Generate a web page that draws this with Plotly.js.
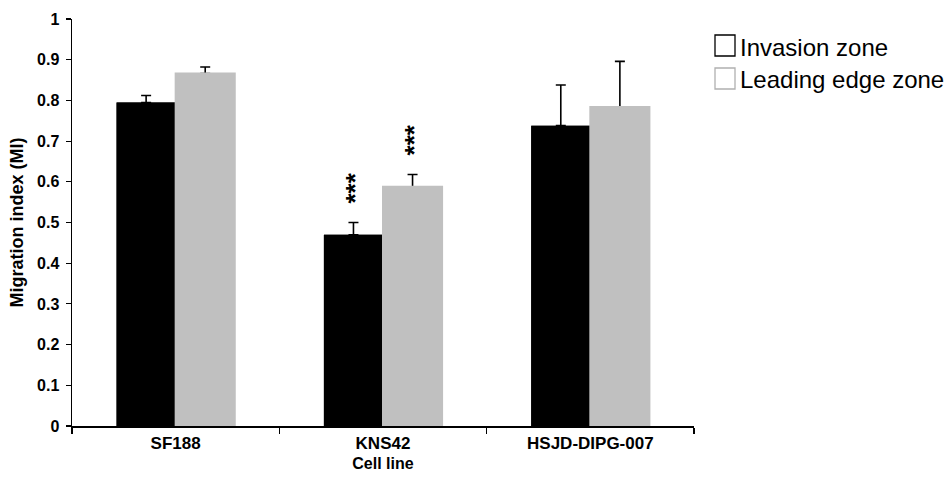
<!DOCTYPE html>
<html>
<head>
<meta charset="utf-8">
<script src="https://cdn.plot.ly/plotly-3.0.1.min.js"></script>
<style>html,body{margin:0;padding:0;background:#fff;}#chart{width:948px;height:479px;}</style>
</head>
<body>
<div id="chart"></div>
<script>
const categories = ["SF188", "KNS42", "HSJD-DIPG-007"];
const seriesNames = ["Invasion zone", "Leading edge zone"];
const invasion = [0.795, 0.470, 0.738];
const invasionErr = [0.017, 0.030, 0.100];
const leading = [0.866, 0.588, 0.784];
const leadingErr = [0.016, 0.030, 0.112];
const seriesColors = ["#000000", "#c0c0c0"];
const sigLabels = [["", "***", ""], ["", "***", ""]];

const FONT = "Liberation Sans, Arial, sans-serif";

function errOpts(arr) {
  return {type: "data", array: arr, symmetric: false, arrayminus: arr.map(() => 0),
          color: "#000", thickness: 1.6, width: 5};
}
const traces = [
  {type: "bar", name: seriesNames[0], x: categories, y: invasion,
   marker: {color: seriesColors[0]}, showlegend: false, error_y: errOpts(invasionErr)},
  {type: "bar", name: seriesNames[1], x: categories, y: leading,
   marker: {color: seriesColors[1]}, showlegend: false, error_y: errOpts(leadingErr)},
  // same bars redrawn on an overlaid axis so the error bars start at the bar top without a foot
  {type: "bar", name: seriesNames[0], x: categories, y: invasion, xaxis: "x2", yaxis: "y",
   marker: {color: seriesColors[0], line: {color: seriesColors[0], width: 0}}, showlegend: false},
  {type: "bar", name: seriesNames[1], x: categories, y: leading, xaxis: "x2", yaxis: "y",
   marker: {color: seriesColors[1], line: {color: seriesColors[1], width: 2}}, showlegend: false}
];

const annotations = [];
const sets = [[invasion, invasionErr, -29.5], [leading, leadingErr, 29.5]];
sets.forEach((s, si) => {
  categories.forEach((c, i) => {
    if (sigLabels[si][i]) {
      annotations.push({x: c, y: s[0][i] + s[1][i], xref: "x", yref: "y",
        text: "<b>" + sigLabels[si][i] + "</b>", showarrow: false, textangle: -90,
        xshift: s[2] + 1, yanchor: "bottom", yshift: 17,
        font: {family: FONT, size: 26, color: "#000"}});
    }
  });
});
// legend
const shapes = [];
seriesNames.forEach((n, i) => {
  shapes.push({type: "rect", xref: "paper", yref: "paper",
    x0: (715 - 72) / 622, x1: (735 - 72) / 622,
    y0: (426 - (56 + i * 33)) / 407, y1: (426 - (35 + i * 33)) / 407,
    line: {color: i === 0 ? "#000" : "#b0b0b0", width: 1.3}, fillcolor: "#fff"});
  annotations.push({xref: "paper", yref: "paper", x: (738 - 72) / 622, y: (426 - (47 + i * 33)) / 407,
    xanchor: "left", yanchor: "middle", text: n, showarrow: false,
    font: {family: FONT, size: 24, color: "#000"}});
});

const layout = {
  width: 948, height: 479,
  margin: {l: 72, r: 254, t: 19, b: 53},
  paper_bgcolor: "#fff", plot_bgcolor: "#fff",
  barmode: "group", bargap: 0.43, bargroupgap: 0,
  showlegend: false,
  font: {family: FONT, color: "#000"},
  xaxis: {type: "category", range: [-0.5, 2.5], showline: true, linecolor: "#000", linewidth: 1.5,
    ticks: "outside", tickson: "boundaries", ticklen: 6, tickwidth: 1.2, tickcolor: "#000",
    showgrid: false, zeroline: false, ticklabelstandoff: 1,
    tickfont: {family: FONT, size: 17, weight: "bold"},
    title: {text: "Cell line", font: {family: FONT, size: 16, weight: "bold"}, standoff: 6}},
  xaxis2: {type: "category", overlaying: "x", matches: "x", range: [-0.5, 2.5], visible: false},
  yaxis: {range: [0, 1], dtick: 0.1, showline: true, linecolor: "#000", linewidth: 1.5,
    ticks: "outside", ticklen: 5, tickwidth: 1.2, tickcolor: "#000",
    showgrid: false, zeroline: false, tickformat: "~g", ticklabelstandoff: 3,
    tickfont: {family: FONT, size: 16, weight: "bold"},
    title: {text: "Migration index (MI)", font: {family: FONT, size: 18, weight: "bold"}, standoff: 8}},
  annotations: annotations,
  shapes: shapes
};

Plotly.newPlot("chart", traces, layout, {displayModeBar: false, staticPlot: true});
</script>
</body>
</html>
